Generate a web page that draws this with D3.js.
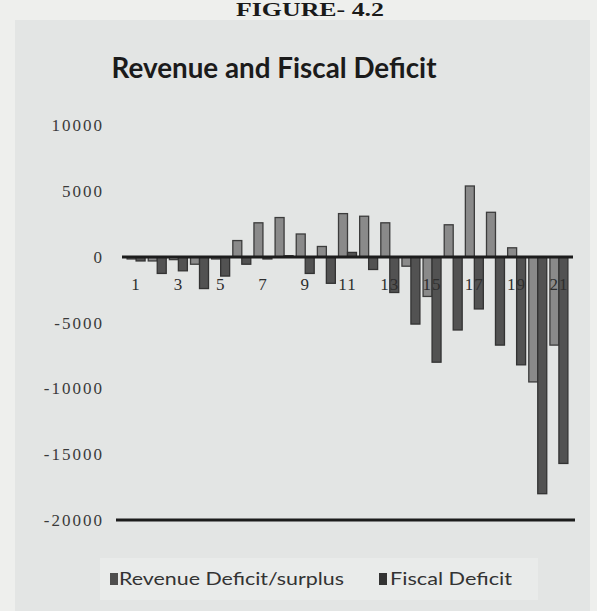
<!DOCTYPE html>
<html>
<head>
<meta charset="utf-8">
<script src="https://cdn.jsdelivr.net/npm/d3@7"></script>
<style>
  html, body { margin: 0; padding: 0; background: #eeefed; }
  svg { display: block; }
</style>
</head>
<body>
<svg id="chart" width="597" height="611"></svg>
<script>
// ---- data ----
const categories = [1,2,3,4,5,6,7,8,9,10,11,12,13,14,15,16,17,18,19,20,21];
const xTickLabels = [1,3,5,7,9,11,13,15,17,19,21];
const revenueDeficit = [-150,-300,-200,-550,-150,1250,2600,3000,1750,800,3300,3100,2600,-700,-3000,2450,5400,3400,700,-9500,-6700];
const fiscalDeficit  = [-300,-1250,-1050,-2400,-1450,-550,-150,100,-1250,-2000,350,-950,-2700,-5100,-8000,-5550,-3950,-6700,-8200,-18000,-15700];
const yTicks = [10000,5000,0,-5000,-10000,-15000,-20000];
const seriesNames = ["Revenue Deficit/surplus", "Fiscal Deficit"];
const titleText = "Revenue and Fiscal Deficit";
const figureText = "FIGURE- 4.2";

const svg = d3.select("#chart");

// backgrounds (photographed page)
svg.append("rect").attr("x",0).attr("y",0).attr("width",597).attr("height",611).attr("fill","#eeefed");
svg.append("rect").attr("x",15).attr("y",20).attr("width",575).attr("height",591).attr("fill","#e3e5e4");
svg.append("rect").attr("x",100).attr("y",558).attr("width",438).attr("height",42).attr("fill","#e9ebea");

// figure caption at the top
svg.append("text").attr("x",310).attr("y",16).attr("text-anchor","middle")
  .attr("font-family","Liberation Serif").attr("font-weight","bold").attr("font-size",18)
  .attr("fill","#1a1a1a").attr("textLength",148).attr("lengthAdjust","spacingAndGlyphs")
  .text(figureText);

// title
svg.append("text").attr("x",274).attr("y",78).attr("text-anchor","middle")
  .attr("font-family","Lato").attr("font-weight","bold").attr("font-size",29)
  .attr("fill","#1b1b1b").attr("textLength",325).attr("lengthAdjust","spacingAndGlyphs")
  .text(titleText);

// scales
const x = d3.scaleBand().domain(categories).range([125,570]).paddingInner(0.15).paddingOuter(0.1);
const xs = d3.scaleBand().domain(["rev","fis"]).range([0, x.bandwidth()]).padding(0);
const y = d3.scaleLinear().domain([-20000, 10000]).range([520, 125.5]);

// y axis (labels only)
const yAxis = svg.append("g").attr("transform","translate(104,0)")
  .call(d3.axisLeft(y).tickValues(yTicks).tickSize(0).tickPadding(0).tickFormat(d => String(d)));
yAxis.select(".domain").remove();
yAxis.selectAll("text").attr("font-family","Liberation Serif").attr("font-size",17)
  .attr("fill","#3a3a3a").attr("letter-spacing","2");

// bars
const rows = categories.map((c,i) => ({c, rev: revenueDeficit[i], fis: fiscalDeficit[i]}));
const g = svg.append("g");
g.selectAll("rect.rev").data(rows).join("rect").attr("class","rev")
  .attr("x", d => x(d.c) + xs("rev"))
  .attr("width", xs.bandwidth())
  .attr("y", d => y(Math.max(0, d.rev)))
  .attr("height", d => Math.abs(y(d.rev) - y(0)))
  .attr("fill","#8a8a8a").attr("stroke","#3c3c3c").attr("stroke-width",1.3);
g.selectAll("rect.fis").data(rows).join("rect").attr("class","fis")
  .attr("x", d => x(d.c) + xs("fis"))
  .attr("width", xs.bandwidth())
  .attr("y", d => y(Math.max(0, d.fis)))
  .attr("height", d => Math.abs(y(d.fis) - y(0)))
  .attr("fill","#525252").attr("stroke","#333").attr("stroke-width",1.3);

// zero line (horizontal axis)
svg.append("line").attr("x1", x.range()[0]-3).attr("x2", x.range()[1]+3)
  .attr("y1", y(0)).attr("y2", y(0)).attr("stroke","#1c1c1c").attr("stroke-width",3);

// bottom line at -20000
svg.append("line").attr("x1", 116).attr("x2", 575)
  .attr("y1", y(-20000)).attr("y2", y(-20000)).attr("stroke","#1c1c1c").attr("stroke-width",3);

// x axis labels
const xAxis = svg.append("g").attr("transform",`translate(0,${y(0)})`)
  .call(d3.axisBottom(x).tickValues(xTickLabels).tickSize(0).tickPadding(21));
xAxis.select(".domain").remove();
xAxis.selectAll("text").attr("font-family","Liberation Serif").attr("font-size",17)
  .attr("fill","#2e2e2e").attr("letter-spacing","1");

// legend
const legend = svg.append("g");
const legItems = [
  {name: seriesNames[0], sq: 110, tx: 119, len: 225, fill: "#4e4e4e"},
  {name: seriesNames[1], sq: 379, tx: 390, len: 122, fill: "#333333"}
];
legItems.forEach(it => {
  legend.append("rect").attr("x", it.sq).attr("y", 573).attr("width", 8).attr("height", 12).attr("fill", it.fill);
  legend.append("text").attr("x", it.tx).attr("y", 585)
    .attr("font-family","Lato").attr("font-size",18).attr("fill","#333")
    .attr("textLength", it.len).attr("lengthAdjust","spacingAndGlyphs").text(it.name);
});
</script>
</body>
</html>
